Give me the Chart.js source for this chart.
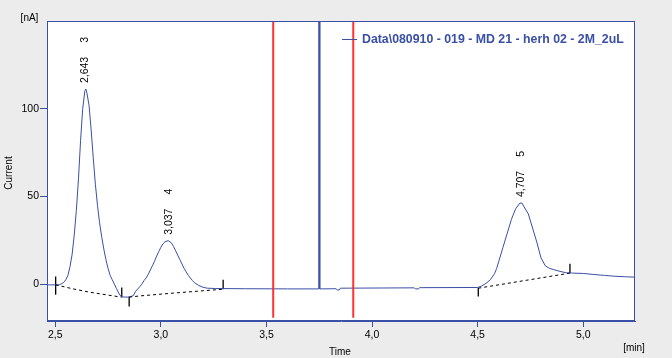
<!DOCTYPE html>
<html>
<head>
<meta charset="utf-8">
<script src="https://cdn.jsdelivr.net/npm/chart.js@4/dist/chart.umd.min.js"></script>
<style>
html,body{margin:0;padding:0;background:#ececec;}
#c{display:block;}
</style>
</head>
<body>
<canvas id="c" width="672" height="358"></canvas>
<script>
// ---- data ----
const xTicks = [2.5, 3.0, 3.5, 4.0, 4.5, 5.0];
const yTicks = [0, 50, 100];
const xRange = [2.461, 5.245];
const yRange = [-21, 150];

const traceTime = [2.461,2.50,2.52,2.53,2.54,2.55,2.56,2.57,2.58,2.59,2.60,2.61,2.62,2.63,2.64,2.645,2.65,2.66,2.67,2.68,2.69,2.70,2.71,2.72,2.73,2.74,2.75,2.76,2.77,2.78,2.79,2.80,2.81,2.82,2.84,2.855,2.87,2.88,2.89,2.90,2.91,2.92,2.93,2.94,2.95,2.96,2.97,2.98,2.99,3.00,3.01,3.02,3.035,3.05,3.06,3.07,3.08,3.09,3.10,3.11,3.12,3.13,3.14,3.15,3.16,3.18,3.20,3.22,3.26,3.40,3.60,3.7475,3.7476,3.7522,3.7523,3.83,3.835,3.845,3.85,4.20,4.205,4.22,4.225,4.50,4.52,4.54,4.56,4.58,4.59,4.60,4.62,4.64,4.66,4.68,4.70,4.71,4.72,4.74,4.76,4.78,4.80,4.82,4.84,4.86,4.88,4.90,4.92,4.95,5.00,5.05,5.10,5.15,5.20,5.245];
const traceCurrent = [-0.4,-0.4,-0.3,0.2,1.0,2.5,5,10,17,28,42,60,82,100,110,111.2,109,102,88,72,57,45,35,27,20,14,9,5,2.5,0,-2.5,-5,-6.8,-7.3,-7.4,-7.2,-6.5,-4.2,-2.8,-1.5,0,2,3.5,5.5,8,10.5,13,16,18.5,21,23,24.2,24.8,23.5,21.5,19,16.5,14,11.5,9,7,5,3.5,2,0.8,-0.8,-1.8,-2.3,-2.5,-2.6,-2.7,-2.7,155,155,-2.7,-2.6,-3.3,-3.3,-2.3,-2.1,-2.7,-2.7,-2.0,-1.9,-1.0,0.5,2.5,6,9,13,21,29,37,43,46.2,46.2,44,40,32,24,15,10.5,9,8.3,7.6,7.0,6.5,6.3,6.1,5.5,5.0,4.5,4.2,4.0];

// integration baselines (dashed)
const base1Time = [2.502, 2.585, 2.664, 2.743, 2.814];
const base1Current = [-0.4, -2.7, -4.6, -6.1, -7.4];
const base2Time = [2.85, 2.901, 3.059, 3.217, 3.295];
const base2Current = [-7.4, -6.7, -5.1, -3.6, -2.9];
const base3Time = [4.503, 4.937];
const base3Current = [-2.3, 6.3];

// peak start/end markers
const markTime = [2.502, 2.815, 2.85, 3.295, 4.503, 4.937];
const markTop = [4.3, -1.9, -7.2, 2.5, -2.1, 11.6];
const markBottom = [-6.1, -7.4, -12.8, -2.9, -7.1, 6.3];

// red window lines
const windowTime = [3.532, 3.911];
const windowTop = 150;
const windowBottom = -19.2;

// peak annotations
const peakTime = [2.643, 3.037, 4.707];
const peakHeight = [111.2, 24.7, 46.2];
const peakLabel = ['2,643', '3,037', '4,707'];
const peakNumber = ['3', '4', '5'];

const legendText = 'Data\\080910 - 019 - MD 21 - herh 02 - 2M_2uL';

// ---- build datasets ----
const BLUE = '#3a4fa6';
const pts = (t, v) => t.map((x, i) => ({x: x, y: v[i]}));
function vSegs(times, tops, bottoms) {
  const out = [];
  times.forEach((t, i) => {
    out.push({x: t, y: tops[i]});
    out.push({x: t, y: bottoms[i]});
    out.push({x: t, y: null});
  });
  return out;
}
const windowBots = windowTime.map(() => windowBottom);
const windowTops = windowTime.map(() => windowTop);

const FONT = 'Liberation Sans';

const decor = {
  id: 'decor',
  beforeDraw(chart) {
    const {ctx, chartArea: a} = chart;
    ctx.save();
    ctx.fillStyle = '#ececec';
    ctx.fillRect(0, 0, chart.width, chart.height);
    ctx.fillStyle = '#ffffff';
    ctx.fillRect(a.left, a.top, a.right - a.left, a.bottom - a.top);
    ctx.restore();
  },
  afterDatasetsDraw(chart) {
    const {ctx, chartArea: a, scales} = chart;
    const xs = scales.x, ys = scales.y;
    ctx.save();
    // frame
    ctx.strokeStyle = BLUE;
    ctx.lineWidth = 1;
    ctx.strokeRect(Math.round(a.left) + 0.5, Math.round(a.top) + 0.5,
      Math.round(a.right - a.left) - 1, Math.round(a.bottom - a.top) - 1);
    // peak labels (rotated)
    ctx.fillStyle = '#000';
    ctx.font = '10.5px "' + FONT + '"';
    ctx.textBaseline = 'middle';
    ctx.textAlign = 'left';
    peakTime.forEach((t, i) => {
      const px = xs.getPixelForValue(t);
      const py = ys.getPixelForValue(peakHeight[i]) - 6;
      ctx.save();
      ctx.translate(px, py);
      ctx.rotate(-Math.PI / 2);
      ctx.fillText(peakLabel[i], 0, 0);
      const w = ctx.measureText(peakLabel[i]).width;
      ctx.fillText(peakNumber[i], w + 14, 0);
      ctx.restore();
    });
    // legend
    ctx.strokeStyle = BLUE;
    ctx.lineWidth = 1;
    ctx.beginPath();
    ctx.moveTo(342, 39.5);
    ctx.lineTo(357, 39.5);
    ctx.stroke();
    ctx.fillStyle = BLUE;
    let fs = 12;
    ctx.font = 'bold ' + fs + 'px "' + FONT + '"';
    const lw = ctx.measureText(legendText).width;
    fs = fs * 262 / lw;
    ctx.font = 'bold ' + fs.toFixed(2) + 'px "' + FONT + '"';
    ctx.textAlign = 'left';
    ctx.textBaseline = 'middle';
    ctx.fillText(legendText, 362, 39.5);
    // axis titles
    ctx.fillStyle = '#000';
    ctx.font = '10px "' + FONT + '"';
    ctx.textAlign = 'center';
    ctx.fillText('Time', 340, 352);
    ctx.fillText('[min]', 634, 348);
    ctx.fillText('[nA]', 29.5, 18.5);
    ctx.save();
    ctx.translate(9, 173);
    ctx.rotate(-Math.PI / 2);
    ctx.fillText('Current', 0, 0);
    ctx.restore();
    ctx.restore();
  }
};

const lineDs = (data, color, width, dash) => ({
  data: data,
  borderColor: color,
  borderWidth: width,
  borderDash: dash || [],
  pointRadius: 0,
  tension: 0,
  fill: false,
  spanGaps: false
});

new Chart(document.getElementById('c'), {
  type: 'line',
  data: {
    datasets: [
      lineDs(vSegs(windowTime, windowTops, windowBots), 'rgba(255,40,40,0.95)', 2),
      lineDs(pts(base1Time, base1Current), '#000', 1, [3, 3]),
      lineDs(pts(base2Time, base2Current), '#000', 1, [3, 3]),
      lineDs(pts(base3Time, base3Current), '#000', 1, [3, 3]),
      lineDs(pts(traceTime, traceCurrent), BLUE, 1),
      lineDs(vSegs(markTime, markTop, markBottom), '#000', 1.3)
    ]
  },
  options: {
    responsive: false,
    animation: false,
    devicePixelRatio: 1,
    layout: {padding: {top: 21, right: 37, left: 0, bottom: 0}},
    plugins: {legend: {display: false}, tooltip: {enabled: false}},
    scales: {
      x: {
        type: 'linear',
        min: xRange[0],
        max: xRange[1],
        afterBuildTicks(s) { s.ticks = xTicks.map(v => ({value: v})); },
        afterFit(s) { s.height = 37; },
        ticks: {
          color: '#000',
          font: {family: FONT, size: 10.5},
          padding: 2,
          maxRotation: 0,
          callback: v => v.toFixed(1).replace('.', ',')
        },
        grid: {display: true, drawOnChartArea: false, drawTicks: true, tickLength: 6, color: BLUE},
        border: {display: true, color: BLUE}
      },
      y: {
        type: 'linear',
        min: yRange[0],
        max: yRange[1],
        afterBuildTicks(s) { s.ticks = yTicks.map(v => ({value: v})); },
        afterFit(s) { s.width = 47; },
        ticks: {
          color: '#000',
          font: {family: FONT, size: 10.5},
          padding: 1,
          callback: v => String(v)
        },
        grid: {display: true, drawOnChartArea: false, drawTicks: true, tickLength: 7, color: BLUE},
        border: {display: true, color: BLUE}
      }
    }
  },
  plugins: [decor]
});
</script>
</body>
</html>
